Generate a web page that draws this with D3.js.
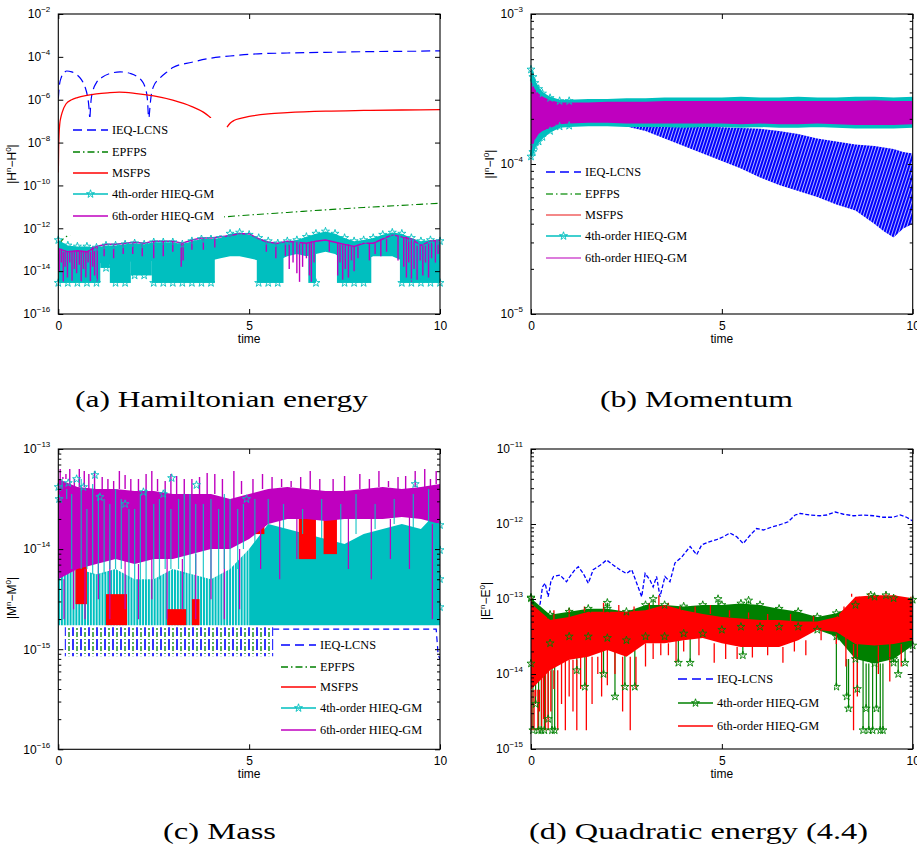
<!DOCTYPE html>
<html>
<head>
<meta charset="utf-8">
<script src="https://cdn.jsdelivr.net/npm/d3@7"></script>
<style>
  body { margin: 0; background: #fff; }
  svg { display: block; }
</style>
</head>
<body>
<script>
// all curve values are log10 of the error

// shared time samples
const tQ = [0,0.25,0.5,0.75,1,1.25,1.5,1.75,2,2.25,2.5,2.75,3,3.25,3.5,3.75,4,4.25,4.5,4.75,5,5.25,5.5,5.75,6,6.25,6.5,6.75,7,7.25,7.5,7.75,8,8.25,8.5,8.75,9,9.25,9.5,9.75,10];
const tH = [0,0.5,1,1.5,2,2.5,3,3.5,4,4.5,5,5.5,6,6.5,7,7.5,8,8.5,9,9.5,10];
const xTicks = [0, 5, 10];
const legendNames = ['IEQ-LCNS', 'EPFPS', 'MSFPS', '4th-order HIEQ-GM', '6th-order HIEQ-GM'];

// (a) Hamiltonian energy
const ieqA_t = [0,0.03,0.08,0.15,0.22,0.35,0.5,0.6,0.7,0.76,0.8,0.82,0.83,0.83,0.86,0.92,1.0,1.15,1.35,1.62,1.9,2.05,2.18,2.27,2.33,2.36,2.37,2.38,2.42,2.49,2.66,2.85,3.0,3.5,4.0,4.5,5.0,6.0,7.0,8.0,9.0,10.0];
const ieqA_e = [-5.95,-5.3,-4.95,-4.75,-4.66,-4.7,-4.85,-5.05,-5.4,-5.8,-6.3,-6.8,null,-6.8,-6.0,-5.5,-5.2,-4.95,-4.78,-4.7,-4.78,-4.9,-5.1,-5.4,-5.9,-6.8,null,-6.8,-6.0,-5.4,-5.0,-4.7,-4.5,-4.25,-4.06,-3.96,-3.88,-3.82,-3.79,-3.76,-3.74,-3.72];
const epA_t = [0.03,0.1,0.2,0.3,0.45,0.7,1,2,3,4.4,5,6,7,8,9,10];
const epA_e = [-12.75,-12.55,-12.4,-12.3,-12.2,-12.1,-12.02,-11.85,-11.67,-11.46,-11.38,-11.26,-11.14,-11.03,-10.93,-10.83];
const msA_t = [0,0.005,0.01,0.02,0.04,0.07,0.1,0.2,0.35,0.5,0.75,1.0,1.3,1.6,2.0,2.5,3.0,3.5,3.8,4.0,4.2,4.42,4.5,4.6,4.8,5.0,5.5,6,7,8,9,10];
const msA_e = [-9.4,-8.8,-8.2,-7.6,-7.1,-6.8,-6.6,-6.2,-6.0,-5.9,-5.8,-5.73,-5.68,-5.65,-5.7,-5.82,-6.02,-6.32,-6.58,-6.85,null,-7.28,-7.1,-6.97,-6.86,-6.78,-6.66,-6.6,-6.53,-6.5,-6.48,-6.46];
const cyanHiA = [-12.55,-12.8,-12.85,-12.85,-12.9,-12.8,-12.8,-12.75,-12.7,-12.75,-12.65,-12.65,-12.65,-12.75,-12.6,-12.5,-12.5,-12.45,-12.25,-12.2,-12.3,-12.45,-12.6,-12.7,-12.6,-12.55,-12.4,-12.25,-12.15,-12.25,-12.45,-12.6,-12.55,-12.45,-12.3,-12.2,-12.25,-12.45,-12.6,-12.55,-12.6];
const cyanLoA = [-13.5,-13.5,-13.5,-13.5,-13.5,-13.8,-13.5,-13.5,-13.6,-13.6,-13.5,-13.5,-13.5,-13.5,-13.5,-13.5,-13.5,-13.4,-13.3,-13.3,-13.4,-13.5,-13.5,-13.5,-13.3,-13.2,-13.3,-13.2,-13.1,-13.2,-13.5,-13.5,-13.5,-13.3,-13.3,-13.3,-13.5,-13.5,-13.5,-13.5,-13.6];
const floorA_t0 = [0,1.1,1.35,1.9,2.45,5.2,6.55,7.3,8.95];
const floorA_t1 = [1.1,1.35,1.9,2.45,4.1,5.9,6.75,8.2,10];
const floorA_e = [-14.55,-13.85,-14.55,-14.2,-14.55,-14.55,-14.55,-14.55,-14.55];
const magA = [-12.95,-13.1,-13.05,-13.1,-12.85,-12.75,-12.75,-12.7,-12.65,-12.7,-12.6,-12.6,-12.6,-12.7,-12.55,-12.45,-12.45,-12.4,-12.35,-12.25,-12.25,-12.5,-12.65,-12.7,-12.6,-12.65,-12.7,-12.6,-12.55,-12.65,-12.75,-12.85,-12.7,-12.7,-12.5,-12.3,-12.4,-12.5,-12.8,-12.6,-12.55];
const magSpkA_t = [0.03,0.08,0.13,0.18,0.24,0.3,0.36,0.42,0.48,0.55,0.6,0.66,0.72,0.78,0.84,0.9,0.95,1.02,1.2,1.45,1.7,1.95,2.2,2.5,2.75,3.0,3.22,3.27,3.5,3.8,4.1,5.45,5.7,5.95,6.05,6.15,6.25,6.32,6.4,6.5,6.58,6.63,6.7,7.1,7.32,7.38,7.45,7.52,7.6,7.68,7.75,7.85,8.15,8.3,8.45,8.6,8.9,9.05,9.12,9.18,9.25,9.32,9.4,9.48,9.55,9.62,9.7,9.78,9.88,9.95];
const magSpkA_e = [-14.0,-13.6,-14.5,-13.8,-14.3,-13.6,-14.45,-13.9,-14.1,-13.7,-14.5,-13.9,-14.3,-13.6,-14.5,-13.8,-14.2,-14.5,-13.3,-13.4,-13.2,-13.2,-13.3,-13.4,-13.3,-13.1,-13.8,-13.5,-13.0,-13.0,-12.9,-13.1,-13.4,-13.3,-13.9,-13.6,-14.1,-14.5,-13.8,-13.4,-14.2,-14.5,-13.6,-13.1,-14.2,-13.6,-14.4,-13.9,-14.3,-13.5,-14.0,-13.4,-13.5,-13.2,-13.3,-13.1,-13.5,-13.8,-14.3,-13.6,-14.5,-13.9,-14.4,-13.5,-14.2,-13.6,-14.3,-13.4,-13.6,-13.2];

// (b) Momentum
const tB = [0,0.05,0.1,0.2,0.3,0.5,0.75,1,1.5,2,2.5,3,3.5,4,4.5,5,5.5,6,6.5,7,7.5,8,8.5,9,9.5,10];
const cyanHiB = [-3.37,-3.42,-3.46,-3.5,-3.53,-3.56,-3.58,-3.58,-3.575,-3.575,-3.57,-3.57,-3.565,-3.565,-3.565,-3.565,-3.56,-3.565,-3.565,-3.56,-3.565,-3.565,-3.56,-3.56,-3.565,-3.56];
const cyanLoB = [-3.95,-3.92,-3.88,-3.85,-3.82,-3.78,-3.75,-3.745,-3.74,-3.74,-3.745,-3.745,-3.745,-3.75,-3.745,-3.745,-3.75,-3.745,-3.75,-3.75,-3.745,-3.75,-3.755,-3.755,-3.755,-3.75];
const magHiB = [-3.45,-3.47,-3.5,-3.53,-3.55,-3.575,-3.59,-3.59,-3.59,-3.585,-3.585,-3.585,-3.58,-3.58,-3.58,-3.58,-3.58,-3.58,-3.58,-3.58,-3.58,-3.58,-3.58,-3.575,-3.58,-3.58];
const magLoB = [-3.92,-3.88,-3.84,-3.8,-3.78,-3.76,-3.735,-3.73,-3.725,-3.725,-3.73,-3.73,-3.73,-3.73,-3.73,-3.73,-3.735,-3.73,-3.735,-3.735,-3.73,-3.735,-3.74,-3.74,-3.74,-3.735];
const tBlueB = [2.5,3,3.5,4,4.5,5,5.5,6,6.5,7,7.5,8,8.5,9,9.25,9.5,9.75,10];
const blueHiB = [-3.74,-3.745,-3.75,-3.75,-3.75,-3.755,-3.76,-3.765,-3.78,-3.8,-3.83,-3.85,-3.87,-3.88,-3.89,-3.9,-3.92,-3.93];
const blueLoB = [-3.75,-3.78,-3.83,-3.88,-3.93,-3.98,-4.03,-4.09,-4.14,-4.18,-4.22,-4.27,-4.31,-4.4,-4.45,-4.49,-4.43,-4.4];

// (c) Mass
const magHiC = [-13.3,-13.38,-13.4,-13.4,-13.42,-13.42,-13.45,-13.45,-13.45,-13.5,-13.45,-13.4,-13.38,-13.4,-13.42,-13.42,-13.4,-13.38,-13.4,-13.38,-13.35];
const magLoC = [-14.3,-14.2,-14.15,-14.1,-14.15,-14.1,-14.1,-14.05,-14.0,-14.0,-13.9,-13.75,-13.7,-13.7,-13.72,-13.7,-13.7,-13.7,-13.68,-13.7,-13.75];
const magUpC_t = [0.05,0.2,0.3,0.55,0.8,0.95,1.3,1.6,1.9,2.3,2.6,2.95,3.3,3.7,4.1,4.6,5.1,5.6,6.1,6.6,7.2,7.9,8.4,8.9,9.35,9.6,9.9,0.12,0.42,0.68,1.15,1.45,1.75,2.1,2.45,2.8,3.1,3.5,3.9,4.3,4.8,5.35,5.85,6.35,6.85,7.5,8.15,8.65,9.1,9.75];
const magUpC_e = [-13.2,-13.25,-13.2,-13.2,-13.25,-13.22,-13.3,-13.22,-13.3,-13.25,-13.3,-13.25,-13.3,-13.28,-13.25,-13.22,-13.3,-13.28,-13.32,-13.22,-13.3,-13.25,-13.22,-13.28,-13.22,-13.2,-13.22,-13.28,-13.3,-13.22,-13.28,-13.32,-13.26,-13.3,-13.22,-13.32,-13.27,-13.3,-13.24,-13.3,-13.32,-13.25,-13.3,-13.28,-13.3,-13.27,-13.3,-13.32,-13.27,-13.3];
const magDnC_t = [0.15,0.4,0.7,1.05,1.35,1.75,2.1,2.45,2.85,3.25,3.6,4.0,4.35,4.75,5.3,5.8,6.25,7.6,8.2,8.7,9.2,9.8];
const magDnC_e = [-14.7,-14.6,-14.7,-14.5,-14.7,-14.6,-14.7,-14.5,-14.7,-14.6,-14.7,-14.5,-14.7,-14.6,-14.2,-14.3,-14.1,-14.2,-14.3,-14.1,-14.2,-14.7];
const cyanHiC = [-13.4,-14.2,-14.25,-14.2,-14.3,-14.3,-14.2,-14.25,-14.3,-14.2,-14.0,-13.75,-13.8,-13.85,-13.9,-13.95,-13.85,-13.8,-13.75,-13.8,-13.6];
const cyanLoC = [-14.76,-14.76,-14.76,-14.76,-14.76,-14.76,-14.76,-14.76,-14.76,-14.76,-14.76,-14.76,-14.76,-14.76,-14.76,-14.76,-14.76,-14.76,-14.76,-14.76,-14.76];
const cyanSpkC_t = [0.1,0.35,0.6,0.9,1.2,1.5,1.85,2.15,2.5,2.8,3.15,3.45,3.8,4.2,4.5,4.85,5.15,5.5,5.9,6.4,6.9,7.4,7.8,8.3,8.8,9.3,9.7,0.22,0.75,1.05,1.35,1.65,2.0,2.3,2.65,2.95,3.3,3.6,4.0,4.35,4.7];
const cyanSpkC_e = [-13.3,-13.45,-13.3,-13.35,-13.5,-13.4,-13.6,-13.45,-13.55,-13.4,-13.5,-13.45,-13.55,-13.6,-13.5,-13.55,-13.5,-13.5,-13.55,-13.6,-13.5,-13.55,-13.45,-13.55,-13.5,-13.45,-13.4,-13.5,-13.6,-13.45,-13.55,-13.5,-13.6,-13.4,-13.5,-13.6,-13.45,-13.55,-13.5,-13.45,-13.6];
const cyanStarC_t = [0,0.02,0.26,0.48,0.66,0.96,1.09,1.75,2.23,2.75,2.97,3.62,4.93,9.35,10,10,10,10];
const cyanStarC_e = [-13.38,-13.5,-13.34,-13.3,-13.38,-13.26,-13.48,-13.55,-13.43,-13.45,-13.29,-13.36,-13.5,-13.35,-13.76,-14.01,-14.3,-14.58];
const redC_t0 = [0.45,1.25,2.85,3.5,5.15,6.3,6.95,9.3];
const redC_t1 = [0.75,1.8,3.35,3.7,5.4,6.75,7.3,9.55];
const redC_hi = [-14.15,-14.45,-14.6,-14.5,-13.6,-13.55,-13.55,-13.45];
const redC_lo = [-14.55,-14.76,-14.76,-14.76,-13.85,-14.1,-14.05,-13.65];
const floorC_t = [0.17, 5.63];
const floorC_hi = [-14.78, -14.78];
const floorC_lo = [-15.07, -15.07];
const blueC_t = [5.63,6,7,8,9,9.9,9.95,10];
const blueC_e = [-14.8,-14.8,-14.8,-14.8,-14.8,-14.8,-15.05,-15.1];

// (d) Quadratic energy
const blueD_t = [0.17,0.24,0.3,0.37,0.45,0.52,0.59,0.76,0.93,1.02,1.15,1.24,1.37,1.5,1.63,1.81,1.98,2.16,2.33,2.5,2.64,2.77,2.9,2.99,3.12,3.2,3.29,3.38,3.51,3.64,3.77,3.95,4.17,4.34,4.47,4.65,4.86,5.04,5.21,5.39,5.56,5.74,5.91,6.09,6.31,6.52,6.74,6.92,7.05,7.31,7.57,7.75,7.97,8.19,8.45,8.71,8.97,9.23,9.49,9.67,9.84,10];
const blueD_e = [-13.15,-13.06,-12.84,-12.79,-12.97,-12.77,-12.70,-12.68,-12.77,-12.70,-12.61,-12.57,-12.66,-12.79,-12.61,-12.55,-12.48,-12.55,-12.61,-12.66,-12.61,-12.79,-12.97,-12.66,-12.75,-12.84,-12.70,-12.97,-12.70,-12.77,-12.52,-12.44,-12.30,-12.41,-12.28,-12.24,-12.21,-12.17,-12.12,-12.17,-12.26,-12.15,-12.06,-12.08,-12.04,-12.01,-11.97,-11.88,-11.86,-11.88,-11.89,-11.88,-11.84,-11.87,-11.89,-11.88,-11.89,-11.91,-11.91,-11.88,-11.91,-11.96];
const greenHiD = [-12.99,-13.21,-13.17,-13.13,-13.13,-13.17,-13.08,-13.08,-13.1,-13.08,-13.08,-13.06,-13.08,-13.13,-13.17,-13.24,-13.19,-13.08,-12.97,-12.99,-13.01];
const greenLoD = [-13.86,-13.59,-13.5,-13.5,-13.52,-13.55,-13.5,-13.5,-13.46,-13.46,-13.41,-13.37,-13.37,-13.37,-13.37,-13.41,-13.5,-13.8,-13.86,-13.8,-13.62];
const greenDn_t = [0.05,0.12,0.2,0.27,0.35,0.45,0.55,0.62,1.2,1.41,1.9,2.2,2.46,2.72,3.86,4.17,5.55,8.0,8.27,8.32,8.55,8.7,8.78,8.85,8.95,9.05,9.15,9.22,9.5,9.62,9.8];
const greenDn_e = [-14.75,-14.4,-14.75,-14.75,-14.75,-14.6,-14.75,-14.75,-13.95,-14.17,-14.0,-14.3,-14.17,-14.17,-13.85,-13.85,-13.75,-14.17,-14.3,-14.46,-14.2,-14.75,-14.46,-14.75,-14.75,-14.46,-14.75,-14.75,-13.85,-14.0,-13.85];
const greenUp_t = [0,2.0,3.2,4.9,5.7,8.9,9.3];
const greenUp_e = [-12.98,-13.05,-13.0,-13.0,-13.02,-12.95,-12.95];
const redHiD = [-13.06,-13.28,-13.24,-13.17,-13.17,-13.17,-13.15,-13.08,-13.15,-13.2,-13.24,-13.26,-13.28,-13.28,-13.3,-13.3,-13.24,-12.97,-12.95,-12.95,-12.99];
const redLoD = [-14.21,-13.95,-13.81,-13.77,-13.68,-13.77,-13.59,-13.59,-13.55,-13.52,-13.59,-13.64,-13.64,-13.64,-13.55,-13.41,-13.44,-13.6,-13.62,-13.6,-13.55];
const redDn_t = [0.02,0.08,0.12,0.18,0.22,0.28,0.33,0.38,0.45,0.52,0.6,0.7,0.8,0.9,1.0,1.1,1.2,1.3,1.45,1.6,1.75,1.85,2.0,2.2,2.4,2.6,2.75,3.0,3.4,3.8,4.8,5.1,6.6,7.2,8.25,8.45,8.55,9.1,9.4,9.7,3.2,3.6,4.0,4.4,5.4,5.8,6.2,6.9,7.6,8.0];
const redDn_e = [-14.75,-14.75,-14.3,-14.75,-14.5,-14.75,-14.6,-14.75,-14.75,-14.5,-14.2,-14.75,-14.4,-14.75,-14.3,-14.5,-14.75,-14.2,-14.75,-14.4,-14.0,-14.3,-14.15,-14.0,-14.5,-14.75,-14.2,-13.9,-13.75,-13.85,-13.85,-13.8,-13.85,-13.75,-13.9,-14.75,-14.3,-14.0,-14.1,-13.9,-13.8,-13.75,-13.7,-13.75,-13.8,-13.78,-13.75,-13.7,-13.55,-13.6];
const redUp_t = [0.0,0.3,0.6,1.0,1.4,1.9,2.3,2.7,3.1,3.35,3.6,3.9,4.3,4.7,5.2,5.7,6.2,6.8,7.4,8.2,8.4,8.6,8.85,9.1,9.3,9.55,9.75,9.95];
const redUp_e = [-12.95,-13.2,-13.15,-13.12,-13.1,-13.05,-13.08,-13.1,-13.05,-12.95,-13.05,-13.1,-13.1,-13.08,-13.15,-13.18,-13.2,-13.2,-13.22,-13.1,-12.93,-12.98,-12.92,-12.95,-12.92,-12.96,-12.95,-12.97];

const BLUE = '#0000ff', GREEN = '#008000', RED = '#ff0000', CYAN = '#00bfbf', MAG = '#bf00bf';
const SANS = '"Liberation Sans", Arial, Helvetica, sans-serif';
const SERIF = '"Liberation Serif", "Times New Roman", serif';
const P = e => Math.pow(10, e);
const starPath = d3.symbol(d3.symbolStar, 20)();

const svg = d3.select('body').append('svg').attr('width', 917).attr('height', 853);
const defs = svg.append('defs');

// streaky fills, to mimic the dense overplotted noise
function streak(id, color, w, gap, rot) {
  const p = defs.append('pattern').attr('id', id).attr('patternUnits', 'userSpaceOnUse')
    .attr('width', w + gap).attr('height', 12);
  if (rot) p.attr('patternTransform', `rotate(${rot})`);
  p.append('line').attr('x1', w / 2).attr('x2', w / 2).attr('y1', 0).attr('y2', 12)
    .attr('stroke', color).attr('stroke-width', w);
}
streak('cyanStreak', CYAN, 2, 0.9);
streak('blueHatch', BLUE, 2.3, 0.7, 18);

// blue / green striped floor in (c)
const pat = defs.append('pattern').attr('id', 'bgStripes').attr('patternUnits', 'userSpaceOnUse')
  .attr('width', 8).attr('height', 14);
pat.append('line').attr('x1', 1).attr('x2', 1).attr('y1', 0).attr('y2', 14)
  .attr('stroke', BLUE).attr('stroke-width', 1.6).attr('stroke-dasharray', '6,3');
pat.append('line').attr('x1', 5).attr('x2', 5).attr('y1', 2).attr('y2', 16)
  .attr('stroke', GREEN).attr('stroke-width', 1.3).attr('stroke-dasharray', '5,2,1,2');

function makePanel(id, b, expLo, expHi) {
  const x = d3.scaleLinear().domain([0, 10]).range([b.l, b.r]);
  const y = d3.scaleLog().domain([P(expLo), P(expHi)]).range([b.b, b.t]);
  defs.append('clipPath').attr('id', 'clip-' + id).append('rect')
    .attr('x', b.l).attr('y', b.t).attr('width', b.r - b.l).attr('height', b.b - b.t);
  const g = svg.append('g');
  const plot = g.append('g').attr('clip-path', `url(#clip-${id})`);
  return { x, y, b, g, plot, expLo, expHi };
}

function band(p, ts, hi, lo, color, op) {
  const area = d3.area()
    .x((d, i) => p.x(ts[i]))
    .y0((d, i) => p.y(P(lo[i])))
    .y1((d, i) => p.y(P(hi[i])));
  return p.plot.append('path').attr('d', area(ts)).attr('fill', color).attr('fill-opacity', op == null ? 1 : op);
}

function line(p, ts, es, color, w, dash, curve) {
  const ln = d3.line().defined((d, i) => es[i] !== null)
    .x((d, i) => p.x(ts[i])).y((d, i) => p.y(P(es[i])))
    .curve(curve || d3.curveLinear);
  return p.plot.append('path').attr('d', ln(ts)).attr('fill', 'none')
    .attr('stroke', color).attr('stroke-width', w).attr('stroke-dasharray', dash || null);
}

// vertical spikes leaving a base curve
function spikes(p, ts, es, baseT, baseE, color, w, op) {
  const g = p.plot.append('g').attr('stroke', color).attr('stroke-width', w).attr('stroke-opacity', op == null ? 1 : op);
  ts.forEach((t, i) => {
    const j = d3.leastIndex(baseT, bt => Math.abs(bt - t));
    g.append('line').attr('x1', p.x(t)).attr('x2', p.x(t))
      .attr('y1', p.y(P(baseE[j]))).attr('y2', p.y(P(es[i])));
  });
}

function stars(p, ts, es, color) {
  p.g.append('g').selectAll('path').data(ts).join('path')
    .attr('d', starPath)
    .attr('transform', (t, i) => `translate(${p.x(t)},${p.y(P(es[i]))})`)
    .attr('fill', 'none').attr('stroke', color).attr('stroke-width', 0.9);
}

function drawAxes(p, majors, withMinor, yParts, yPos) {
  const { x, y, b } = p;
  const ax = p.g.append('g');
  const clean = s => s.select('.domain').remove();
  const minors = [];
  if (withMinor) {
    for (let k = p.expLo; k < p.expHi; k++) for (let m = 2; m <= 9; m++) minors.push(m * P(k));
  }
  const gx = ax.append('g').attr('transform', `translate(0,${b.b})`)
    .call(d3.axisBottom(x).tickValues(xTicks).tickSize(-5).tickPadding(7).tickFormat(d3.format('d')))
    .call(clean);
  gx.attr('font-family', SANS).attr('font-size', 12);
  ax.append('g').attr('transform', `translate(0,${b.t})`)
    .call(d3.axisTop(x).tickValues(xTicks).tickSize(-5).tickFormat('')).call(clean);

  const gy = ax.append('g').attr('transform', `translate(${b.l},0)`)
    .call(d3.axisLeft(y).tickValues(majors.map(P)).tickSize(-5).tickPadding(8).tickFormat(''))
    .call(clean);
  gy.attr('font-family', SANS).attr('font-size', 12);
  gy.selectAll('.tick text').each(function (d) {
    const t = d3.select(this).text(null);
    t.append('tspan').text('10');
    t.append('tspan').attr('dy', -6).attr('font-size', 8).text('\u2212' + Math.round(-Math.log10(d)));
  });
  ax.append('g').attr('transform', `translate(${b.r},0)`)
    .call(d3.axisRight(y).tickValues(majors.map(P)).tickSize(-5).tickFormat('')).call(clean);
  if (withMinor) {
    ax.append('g').attr('transform', `translate(${b.l},0)`)
      .call(d3.axisLeft(y).tickValues(minors).tickSize(-3).tickFormat('')).call(clean);
    ax.append('g').attr('transform', `translate(${b.r},0)`)
      .call(d3.axisRight(y).tickValues(minors).tickSize(-3).tickFormat('')).call(clean);
  }
  ax.append('rect').attr('x', b.l).attr('y', b.t).attr('width', b.r - b.l).attr('height', b.b - b.t)
    .attr('fill', 'none').attr('stroke', '#000').attr('stroke-width', 1.1);

  ax.append('text').attr('x', (b.l + b.r) / 2).attr('y', b.b + 29).attr('text-anchor', 'middle')
    .attr('font-family', SANS).attr('font-size', 12).text('time');

  const yl = ax.append('text').attr('transform', `translate(${yPos[0]},${yPos[1]}) rotate(-90)`)
    .attr('text-anchor', 'middle').attr('font-family', SANS).attr('font-size', 12);
  let prevSup = false;
  yParts.forEach(([s, sup]) => {
    const ts = yl.append('tspan').text(s);
    if (sup) ts.attr('font-size', 8).attr('dy', -5);
    else if (prevSup) ts.attr('dy', 5);
    prevSup = sup;
  });
}

function legend(p, box, items) {
  const g = p.g.append('g');
  g.append('rect').attr('x', box.x).attr('y', box.y).attr('width', box.w).attr('height', box.h).attr('fill', '#fff');
  items.forEach(it => {
    g.append('line').attr('x1', box.lx).attr('x2', box.lx + 35).attr('y1', it.y).attr('y2', it.y)
      .attr('stroke', it.c).attr('stroke-width', 1.3).attr('stroke-dasharray', it.dash || null);
    if (it.star) {
      g.append('path').attr('d', starPath).attr('transform', `translate(${box.lx + 17.5},${it.y})`)
        .attr('fill', 'none').attr('stroke', it.c).attr('stroke-width', 0.9);
    }
    g.append('text').attr('x', box.lx + 39).attr('y', it.y + 4)
      .attr('font-family', SERIF).attr('font-size', 12.3).text(it.label);
  });
}

const DASH = '9,5', DASHDOT = '7,3,1.5,3';

// ---------------- (a) ----------------
const pa = makePanel('a', { l: 58.3, t: 14, r: 440, b: 314 }, -16, -2);
line(pa, ieqA_t, ieqA_e, BLUE, 1.2, DASH, d3.curveMonotoneX);
line(pa, epA_t, epA_e, GREEN, 1.1, DASHDOT, d3.curveMonotoneX);
line(pa, msA_t, msA_e, RED, 1.3, null, d3.curveMonotoneX);
band(pa, tQ, cyanHiA, cyanLoA, CYAN);
floorA_t0.forEach((t0, i) => {
  pa.plot.append('rect').attr('x', pa.x(t0)).attr('width', pa.x(floorA_t1[i]) - pa.x(t0))
    .attr('y', pa.y(P(-13.2))).attr('height', pa.y(P(floorA_e[i])) - pa.y(P(-13.2)))
    .attr('fill', CYAN);
});
stars(pa, tQ, cyanHiA, CYAN);
floorA_t0.forEach((t0, i) => {
  const inBlock = tQ.filter(t => t >= t0 && t <= floorA_t1[i]);
  stars(pa, inBlock, inBlock.map(() => floorA_e[i]), CYAN);
});
line(pa, tQ, magA, MAG, 1.5);
spikes(pa, magSpkA_t, magSpkA_e, tQ, magA, MAG, 1.4);
legend(pa, { x: 69, y: 118, w: 155, h: 117, lx: 73 }, [
  { label: legendNames[0], c: BLUE, dash: DASH, y: 130 },
  { label: legendNames[1], c: GREEN, dash: DASHDOT, y: 152 },
  { label: legendNames[2], c: RED, y: 173 },
  { label: legendNames[3], c: CYAN, star: true, y: 194 },
  { label: legendNames[4], c: MAG, y: 216 }
]);
drawAxes(pa, [-16, -14, -12, -10, -8, -6, -4, -2], false,
  [['|H', false], ['n', true], ['\u2212H', false], ['0', true], ['|', false]], [16, 164]);

// ---------------- (b) ----------------
const pb = makePanel('b', { l: 531, t: 14, r: 912.7, b: 314 }, -5, -3);
band(pb, tBlueB, blueHiB, blueLoB, 'url(#blueHatch)');
band(pb, tB, cyanHiB, cyanLoB, CYAN).attr('stroke', CYAN).attr('stroke-width', 2.5);
stars(pb, tB.slice(0, 8), cyanHiB.slice(0, 8), CYAN);
stars(pb, tB.slice(0, 8), cyanLoB.slice(0, 8), CYAN);
band(pb, tB, magHiB, magLoB, MAG);
legend(pb, { x: 542, y: 160, w: 150, h: 110, lx: 546 }, [
  { label: legendNames[0], c: BLUE, dash: DASH, y: 172 },
  { label: legendNames[1], c: '#33a033', dash: DASHDOT, y: 194 },
  { label: legendNames[2], c: '#f06060', y: 215 },
  { label: legendNames[3], c: CYAN, star: true, y: 236 },
  { label: legendNames[4], c: '#d050d0', y: 258 }
]);
drawAxes(pb, [-5, -4, -3], true,
  [['|I', false], ['n', true], ['\u2212I', false], ['0', true], ['|', false]], [494, 164]);

// ---------------- (c) ----------------
const pc = makePanel('c', { l: 58.3, t: 449, r: 440, b: 749.3 }, -16, -13);
band(pc, floorC_t, floorC_hi, floorC_lo, 'url(#bgStripes)');
line(pc, blueC_t, blueC_e, BLUE, 1.2, '6,4');
band(pc, tH.slice(0, 11), cyanHiC.slice(0, 11), cyanLoC.slice(0, 11), 'url(#cyanStreak)');
band(pc, tH.slice(10), cyanHiC.slice(10), cyanLoC.slice(10), CYAN);
redC_t0.forEach((t0, i) => {
  pc.plot.append('rect').attr('x', pc.x(t0)).attr('width', pc.x(redC_t1[i]) - pc.x(t0))
    .attr('y', pc.y(P(redC_hi[i]))).attr('height', pc.y(P(redC_lo[i])) - pc.y(P(redC_hi[i])))
    .attr('fill', RED);
});
band(pc, tH, magHiC, magLoC, MAG);
spikes(pc, magUpC_t, magUpC_e, tH, magHiC, MAG, 1.4);
spikes(pc, magDnC_t, magDnC_e, tH, magLoC, MAG, 1.2);
spikes(pc, cyanSpkC_t, cyanSpkC_e, tH, cyanHiC, CYAN, 1.2, 0.85);
stars(pc, cyanStarC_t, cyanStarC_e, CYAN);
legend(pc, { x: 277, y: 634, w: 157, h: 108, lx: 281 }, [
  { label: legendNames[0], c: BLUE, dash: DASH, y: 645 },
  { label: legendNames[1], c: GREEN, dash: DASHDOT, y: 667 },
  { label: legendNames[2], c: RED, y: 687 },
  { label: legendNames[3], c: CYAN, star: true, y: 708 },
  { label: legendNames[4], c: MAG, y: 730 }
]);
drawAxes(pc, [-16, -15, -14, -13], true,
  [['|M', false], ['n', true], ['\u2212M', false], ['0', true], ['|', false]], [16, 598]);

// ---------------- (d) ----------------
const pd = makePanel('d', { l: 531, t: 449, r: 912.7, b: 749 }, -15, -11);
line(pd, blueD_t, blueD_e, BLUE, 1.3, '4,2');
band(pd, tH, greenHiD, greenLoD, GREEN);
spikes(pd, greenDn_t, greenDn_e, tH, greenLoD, GREEN, 1.2);
spikes(pd, greenUp_t, greenUp_e, tH, greenHiD, GREEN, 1.2);
stars(pd, tH, greenHiD, GREEN);
stars(pd, tH, greenLoD, GREEN);
stars(pd, greenDn_t, greenDn_e, GREEN);
stars(pd, greenUp_t, greenUp_e, GREEN);
band(pd, tH, redHiD, redLoD, RED);
spikes(pd, redDn_t, redDn_e, tH, redLoD, RED, 1.3);
spikes(pd, redUp_t, redUp_e, tH, redHiD, RED, 1.3);
legend(pd, { x: 674, y: 667, w: 160, h: 70, lx: 678 }, [
  { label: legendNames[0], c: BLUE, dash: DASH, y: 679 },
  { label: legendNames[3], c: GREEN, star: true, y: 703 },
  { label: legendNames[4], c: RED, y: 726 }
]);
drawAxes(pd, [-15, -14, -13, -12, -11], true,
  [['|E', false], ['n', true], ['\u2212E', false], ['0', true], ['|', false]], [490, 601]);

// ---------------- captions ----------------
const captions = [
  { text: '(a) Hamiltonian energy', x0: 75, x1: 368, y: 407 },
  { text: '(b) Momentum', x0: 600, x1: 793, y: 407 },
  { text: '(c) Mass', x0: 163, x1: 276, y: 839 },
  { text: '(d) Quadratic energy (4.4)', x0: 529, x1: 868, y: 839 }
];
captions.forEach(c => {
  svg.append('text').attr('x', c.x0).attr('y', c.y)
    .attr('font-family', SERIF).attr('font-size', 24)
    .attr('textLength', c.x1 - c.x0).attr('lengthAdjust', 'spacingAndGlyphs')
    .text(c.text);
});
</script>
</body>
</html>
